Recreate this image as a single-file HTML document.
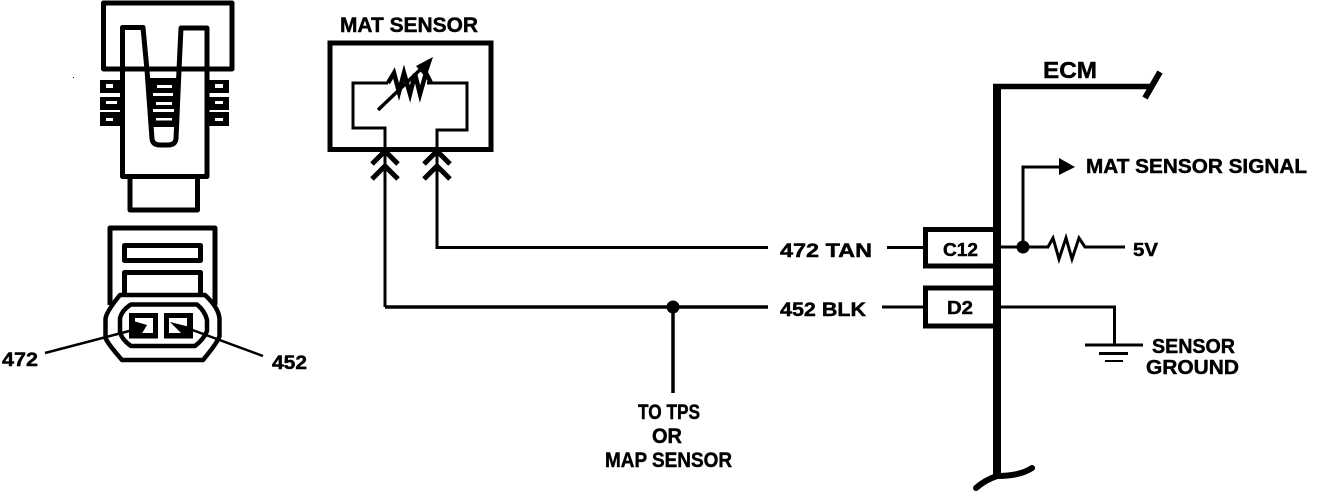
<!DOCTYPE html>
<html><head><meta charset="utf-8"><style>
html,body{margin:0;padding:0;background:#fff}
svg{display:block}
text{font-family:"Liberation Sans",sans-serif;font-weight:bold;fill:#000;stroke:#000;stroke-width:.45px}
</style></head><body>
<svg width="1328" height="492" viewBox="0 0 1328 492" xmlns="http://www.w3.org/2000/svg">
<rect width="1328" height="492" fill="#fff"/>
<g fill="none" stroke="#000" stroke-linejoin="round">
<!-- top connector -->
<path d="M103.500 69V3H232V69Z" stroke-width="5"/>
<path d="M122.500 69V27.500H143L147 70L152 139Q153 145 160 145H168Q175 145 176 139L179 70L181 28H207V69" stroke-width="5"/>
<path d="M122.500 69V176.500H207V69" stroke-width="5"/>
<path d="M130 178V210H197.500V178" stroke-width="5"/>
</g>
<g fill="#000">
<rect x="100" y="80" width="21" height="13"/><rect x="100" y="97" width="21" height="13"/><rect x="100" y="112" width="21" height="14"/>
<rect x="208" y="80" width="21" height="13"/><rect x="208" y="97" width="21" height="13"/><rect x="208" y="112" width="21" height="14"/>
<path d="M147 78H181L178 127H151Z"/>
<rect x="73" y="77" width="1" height="1"/>
</g>
<g fill="#fff">
<rect x="106" y="84" width="7" height="4"/><rect x="106" y="101" width="11" height="3"/><rect x="106" y="118" width="7" height="3"/>
<rect x="215" y="84" width="8" height="4"/><rect x="215" y="101" width="8" height="3"/><rect x="215" y="118" width="8" height="3"/>
<rect x="157" y="85" width="15" height="3"/><rect x="153" y="93" width="20" height="3"/><rect x="156" y="102" width="16" height="3"/><rect x="153" y="109" width="21" height="3"/><rect x="156" y="118" width="16" height="2.500"/>
<path d="M155 127H172L171 140H156Z"/>
</g>
<!-- lower connector -->
<g fill="none" stroke="#000" stroke-linejoin="round">
<path d="M110 305V228H215V305" stroke-width="5"/>
<rect x="124.500" y="245.500" width="76" height="15" stroke-width="5"/>
<path d="M124.500 294V272.500H200.500V294" stroke-width="5"/>
<path d="M120 296H206" stroke-width="6"/>
</g>
<path d="M105.500 319Q106 312 120 295H205Q219 308 219.500 319V336Q218 342 203 360H122Q108 344 105.500 338Z" fill="#fff" stroke="#000" stroke-width="4.500" stroke-linejoin="round"/>
<path d="M120 318Q122 310 131 304.500H197Q205 311 207 320V331Q204 339 195 346H131Q122 340 120 332Z" fill="#fff" stroke="#000" stroke-width="4.500" stroke-linejoin="round"/>
<rect x="129" y="313" width="29" height="25.500" fill="#000"/>
<rect x="164" y="313" width="29" height="25.500" fill="#000"/>
<rect x="135" y="318" width="18" height="15" fill="#fff"/>
<rect x="169" y="318" width="18" height="15" fill="#fff"/>
<path d="M130 320L147 325L141 335L130 335Z" fill="#000"/>
<path d="M170 322L190 327L190 335L181 333Z" fill="#000"/>
<path d="M45 353L133 330M263 356L187 328" fill="none" stroke="#000" stroke-width="2.500"/>
<!-- MAT sensor -->
<g fill="none" stroke="#000">
<rect x="330" y="43" width="161" height="106.500" stroke-width="5"/>
<path d="M388 83H353V128H385V150M427 83H467V130H437V150" stroke-width="3"/>
<path d="M388 83L394 73L399 92L404 73L410 94L415 74L420 94L426 73L431 83" stroke-width="4.500" stroke-linejoin="miter"/>
<path d="M378 110L424 66" stroke-width="3.500"/>
<path d="M372 164L385 151L398 164M372 179L385 166L398 179M424 164L437 151L450 164M424 179L437 166L450 179" stroke-width="5"/>
<path d="M385 150V307M437 150V247.500H768" stroke-width="3"/>
<path d="M385 307H768" stroke-width="3.500"/>
<path d="M673 307V393" stroke-width="3.500"/>
<path d="M887 247.500H925M882 307H925" stroke-width="3"/>
</g>
<path d="M416 66L433 57L426 78Z" fill="#000"/>
<circle cx="673" cy="307" r="6.500" fill="#000"/>
<!-- ECM -->
<g fill="none" stroke="#000">
<path d="M993 86.500H1150" stroke-width="5.500"/>
<path d="M997 84V478" stroke-width="8"/>
<path d="M1145 98L1160 72" stroke-width="6"/>
<path d="M976 488Q985 480 997 476Q1020 476 1032 468" stroke-width="6" stroke-linecap="round"/>
<path d="M997 229.500H925.500V266H997M997 288H925.500V326H997" stroke-width="5"/>
<path d="M1001 247H1048L1053 238L1059 259L1066 238L1072 259L1079 238L1085 247H1125" stroke-width="3"/>
<path d="M1023 247V167H1060" stroke-width="3"/>
<path d="M1001 307H1114.500V345" stroke-width="3"/>
<path d="M1085 345H1143M1099 353.500H1128" stroke-width="3"/>
<path d="M1105 361H1123" stroke-width="2"/>
</g>
<circle cx="1023" cy="247" r="6.500" fill="#000"/>
<path d="M1059 158L1075 167L1059 175Z" fill="#000"/>
<!-- labels -->
<text x="2" y="366" font-size="19" textLength="36" lengthAdjust="spacingAndGlyphs">472</text>
<text x="272" y="369" font-size="19" textLength="35" lengthAdjust="spacingAndGlyphs">452</text>
<text x="340" y="32" font-size="21" textLength="138" lengthAdjust="spacingAndGlyphs">MAT SENSOR</text>
<text x="780" y="257" font-size="19" textLength="92" lengthAdjust="spacingAndGlyphs">472  TAN</text>
<text x="780" y="316" font-size="19" textLength="86" lengthAdjust="spacingAndGlyphs">452  BLK</text>
<text x="638" y="419" font-size="21" textLength="62" lengthAdjust="spacingAndGlyphs">TO TPS</text>
<text x="652" y="443" font-size="21" textLength="30" lengthAdjust="spacingAndGlyphs">OR</text>
<text x="605" y="467" font-size="21" textLength="127" lengthAdjust="spacingAndGlyphs">MAP SENSOR</text>
<text x="1043" y="78" font-size="23" textLength="54" lengthAdjust="spacingAndGlyphs">ECM</text>
<text x="943" y="256" font-size="18" textLength="35" lengthAdjust="spacingAndGlyphs">C12</text>
<text x="947" y="314" font-size="18" textLength="26" lengthAdjust="spacingAndGlyphs">D2</text>
<text x="1133" y="256" font-size="18" textLength="25" lengthAdjust="spacingAndGlyphs">5V</text>
<text x="1086" y="173" font-size="20" textLength="221" lengthAdjust="spacingAndGlyphs">MAT SENSOR SIGNAL</text>
<text x="1152" y="353" font-size="20" textLength="83" lengthAdjust="spacingAndGlyphs">SENSOR</text>
<text x="1146" y="374" font-size="20" textLength="93" lengthAdjust="spacingAndGlyphs">GROUND</text>
</svg>
</body></html>
